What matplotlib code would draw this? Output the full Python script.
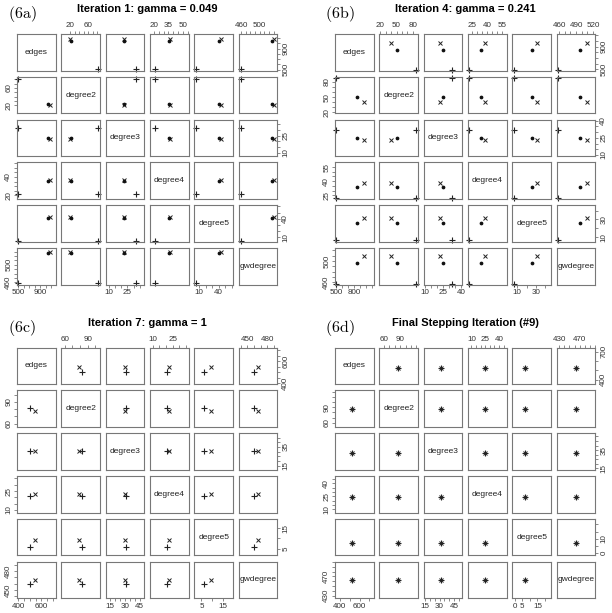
import matplotlib.pyplot as plt

plt.rcParams['font.family'] = ['Liberation Sans', 'DejaVu Sans']
plt.rcParams['mathtext.fontset'] = 'cm'

nombres = ["edges", "degree2", "degree3", "degree4", "degree5", "gwdegree"]

# (6a) Iteration 1
a_obs = [505, 82, 32, 21, 5, 459]
a_media = [1075, 20, 22, 37, 43, 530]
a_obj = [1045, 23, 22.5, 36, 41, 526]
a_lims = [(480, 1180), (1, 86), (7, 39), (16, 56), (3, 62), (455, 538)]
a_ticks = [[500, 600, 700, 800, 900, 1000, 1100], [20, 30, 40, 50, 60, 70, 80],
           [10, 15, 20, 25, 30, 35], [20, 25, 30, 35, 40, 45, 50, 55],
           [10, 20, 30, 40, 50, 60], [460, 470, 480, 490, 500, 510, 520, 530]]
a_xlab = [[500, 900], [20, 60], [10, 25], [20, 35, 50], [10, 40], [460, 500]]
a_ylab = [[500, 900], [20, 60], [10, 25], [20, 40], [10, 40], [460, 500]]

# (6b) Iteration 4
b_obs = [497, 87, 32, 22, 6.5, 458]
b_media = [963, 40, 22.8, 38, 31.5, 509]
b_obj = [845, 51, 25, 34.3, 25.5, 496]
b_lims = [(480, 1120), (18, 90), (9, 41), (21, 60), (5, 46), (456, 524)]
b_ticks = [[500, 600, 700, 800, 900, 1000, 1100], [20, 30, 40, 50, 60, 70, 80],
           [10, 15, 20, 25, 30, 35, 40], [25, 30, 35, 40, 45, 50, 55],
           [10, 20, 30, 40], [460, 470, 480, 490, 500, 510, 520]]
b_xlab = [[500, 800], [20, 50, 80], [10, 25, 40], [25, 40, 55], [10, 30], [460, 490, 520]]
b_ylab = [[500, 900], [20, 50, 80], [10, 25, 40], [25, 40, 55], [10, 30], [460, 500]]

# (6c) Iteration 7
c_obs = [500, 82, 31, 21, 6, 459.6]
c_media = [545, 78, 30.5, 22.5, 9.2, 466]
c_lims = [(391, 723), (55.6, 106), (10.5, 50), (8, 37), (1.8, 19.5), (437, 495)]
c_ticks = [[400, 450, 500, 550, 600, 650, 700], [60, 70, 80, 90, 100],
           [15, 20, 25, 30, 35, 40, 45], [10, 15, 20, 25, 30, 35],
           [5, 10, 15], [440, 450, 460, 470, 480, 490]]
c_xlab = [[400, 600], [60, 90], [15, 30, 45], [10, 25], [5, 15], [450, 480]]
c_ylab = [[400, 600], [60, 90], [15, 35], [10, 25], [5, 15], [450, 480]]

# (6d) Final
d_obs = [520, 87, 31.5, 24.5, 7, 463]
d_media = [520, 87, 31.5, 24.5, 7, 463]
d_lims = [(353, 743), (52, 123), (13.6, 53.6), (6.4, 48.3), (-1.5, 24), (425, 501)]
d_ticks = [[400, 500, 600, 700], [60, 70, 80, 90, 100, 110, 120],
           [15, 20, 25, 30, 35, 40, 45, 50], [10, 15, 20, 25, 30, 35, 40, 45],
           [0, 5, 10, 15, 20], [430, 440, 450, 460, 470, 480, 490, 500]]
d_xlab = [[400, 600], [60, 90], [15, 30, 45], [10, 25, 40], [0, 5, 15], [430, 470]]
d_ylab = [[400, 700], [60, 90], [15, 35], [10, 25, 40], [0, 10], [430, 470]]

W, H = 612, 613
fig = plt.figure(figsize=(W / 100, H / 100), dpi=100)

gris = "#777777"


def etiquetas(ticks, lab):
    return [str(t) if t in lab else "" for t in ticks]


def pares(x0, y0, obs, media, obj, lims, ticks, xlab, ylab, titulo, letra):
    pw, ph = 38.7, 36.6
    dx, dy = 44.35, 42.8
    for i in range(6):
        for j in range(6):
            left = x0 + j * dx
            top = y0 + i * dy
            ax = fig.add_axes([left / W, 1 - (top + ph) / H, pw / W, ph / H])
            ax.set_xlim(lims[j])
            ax.set_ylim(lims[i])
            for s in ax.spines.values():
                s.set_color(gris)
                s.set_linewidth(0.8)
            ax.tick_params(length=2.5, width=0.6, color=gris, direction="out",
                           labelsize=5.8, labelcolor="#333333", pad=1,
                           bottom=False, left=False, labelbottom=False, labelleft=False)
            ax.set_xticks(ticks[j])
            ax.set_yticks(ticks[i])
            ax.set_xticklabels(etiquetas(ticks[j], xlab[j]))
            ax.set_yticklabels(etiquetas(ticks[i], ylab[i]), rotation=90, va="center")
            if i == j:
                ax.text(0.5, 0.5, nombres[i], transform=ax.transAxes, ha="center",
                        va="center", fontsize=6, color="#222222")
            else:
                ax.plot(obs[j], obs[i], marker="+", color="#222222", ms=4.5, mew=0.8,
                        ls="none", clip_on=False)
                ax.plot(media[j], media[i], marker="x", color="#222222", ms=3.4, mew=0.7,
                        ls="none", clip_on=False)
                if obj is not None:
                    ax.plot(obj[j], obj[i], marker="o", color="#111111", ms=1.7,
                            ls="none", clip_on=False)
            # ejes exteriores alternados como en pairs()
            if i == 0 and j % 2 == 1:
                ax.tick_params(top=True, labeltop=True)
            if i == 5 and j % 2 == 0:
                ax.tick_params(bottom=True, labelbottom=True)
            if j == 0 and i % 2 == 1:
                ax.tick_params(left=True, labelleft=True)
            if j == 5 and i % 2 == 0:
                ax.tick_params(right=True, labelright=True)
    cx = x0 + (5 * dx + pw) / 2
    fig.text(cx / W, 1 - (y0 - 24.5) / H, titulo, ha="center", va="center",
             fontsize=8, fontweight="bold")
    fig.text((x0 + 5) / W, 1 - (y0 - 20) / H, letra, ha="center", va="center",
             fontsize=11.5)


pares(17, 34, a_obs, a_media, a_obj, a_lims, a_ticks, a_xlab, a_ylab,
      "Iteration 1: gamma = 0.049", r"$\mathrm{(6a)}$")
pares(335, 34, b_obs, b_media, b_obj, b_lims, b_ticks, b_xlab, b_ylab,
      "Iteration 4: gamma = 0.241", r"$\mathrm{(6b)}$")
pares(17, 347.5, c_obs, c_media, None, c_lims, c_ticks, c_xlab, c_ylab,
      "Iteration 7: gamma = 1", r"$\mathrm{(6c)}$")
pares(335, 347.5, d_obs, d_media, None, d_lims, d_ticks, d_xlab, d_ylab,
      "Final Stepping Iteration (#9)", r"$\mathrm{(6d)}$")

fig.savefig("out.png", dpi=100)
